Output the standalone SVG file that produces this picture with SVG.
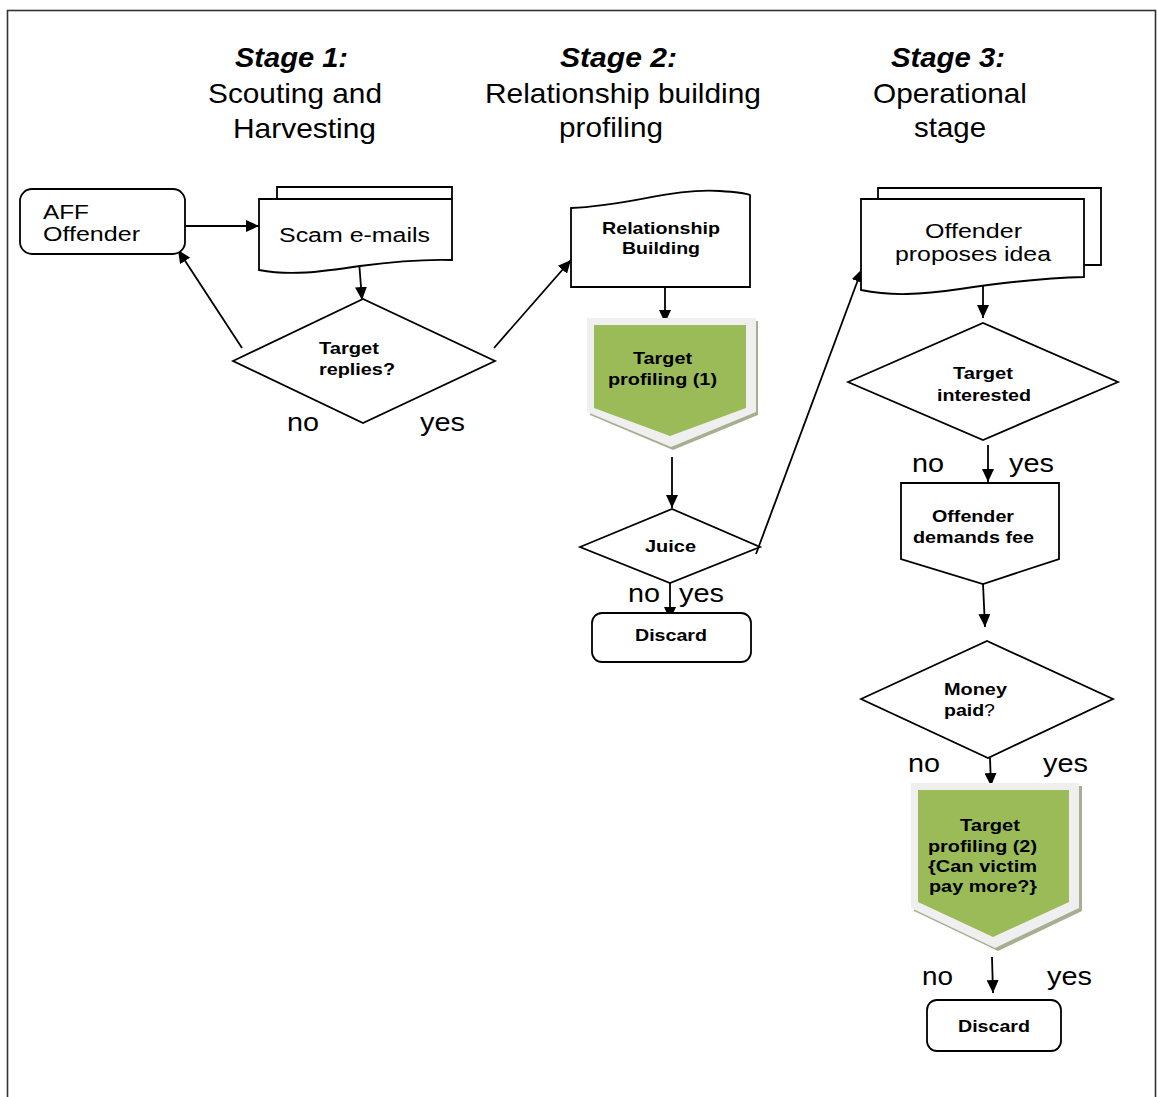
<svg xmlns="http://www.w3.org/2000/svg" width="1157" height="1097" viewBox="0 0 1157 1097">
<defs>
<marker id="ah" markerUnits="userSpaceOnUse" markerWidth="14" markerHeight="12" refX="13" refY="6" orient="auto">
<path d="M0,0 L13,6 L0,12 Z" fill="#000"/>
</marker>
<style>
.hb{font-family:"Liberation Sans",Arial,sans-serif;font-size:27px;font-weight:bold;font-style:italic;fill:#000}
.hr{font-family:"Liberation Sans",Arial,sans-serif;font-size:28px;fill:#000}
.lr{font-family:"Liberation Sans",Arial,sans-serif;font-size:20px;fill:#000}
.lb{font-family:"Liberation Sans",Arial,sans-serif;font-size:17px;font-weight:bold;fill:#000}
.yn{font-family:"Liberation Sans",Arial,sans-serif;font-size:25px;fill:#000}
.sh{fill:#fff;stroke:#000;stroke-width:1.8}
.con{fill:none;stroke:#000;stroke-width:1.8;marker-end:url(#ah)}
.outer{fill:#efefef}
.shadow{fill:#a7ae92}
.green{fill:#9bbb59}
</style>
</defs>
<rect x="7.5" y="10.5" width="1148" height="1100" fill="#fff" stroke="#333" stroke-width="1.6"/>

<g id="headers">
<text class="hb" x="235" y="67" textLength="113" lengthAdjust="spacingAndGlyphs">Stage 1:</text>
<text class="hr" x="208" y="103" textLength="174" lengthAdjust="spacingAndGlyphs">Scouting and</text>
<text class="hr" x="233" y="138" textLength="143" lengthAdjust="spacingAndGlyphs">Harvesting</text>
<text class="hb" x="560" y="67" textLength="117" lengthAdjust="spacingAndGlyphs">Stage 2:</text>
<text class="hr" x="485" y="103" textLength="276" lengthAdjust="spacingAndGlyphs">Relationship building</text>
<text class="hr" x="559" y="137" textLength="104" lengthAdjust="spacingAndGlyphs">profiling</text>
<text class="hb" x="891" y="67" textLength="114" lengthAdjust="spacingAndGlyphs">Stage 3:</text>
<text class="hr" x="873" y="103" textLength="154" lengthAdjust="spacingAndGlyphs">Operational</text>
<text class="hr" x="914" y="137" textLength="72" lengthAdjust="spacingAndGlyphs">stage</text>
</g>

<g id="connectors">
<line class="con" x1="185" y1="226" x2="259" y2="226"/>
<line class="con" x1="359" y1="261" x2="362" y2="300"/>
<line class="con" x1="242" y1="348" x2="178" y2="250"/>
<line class="con" x1="494" y1="348" x2="571" y2="260"/>
<line class="con" x1="665" y1="287" x2="665" y2="323"/>
<line class="con" x1="672" y1="457" x2="672" y2="508"/>
<line class="con" x1="670" y1="583" x2="670" y2="620"/>
<line class="con" x1="756" y1="554" x2="862" y2="269"/>
<line class="con" x1="983" y1="281" x2="983" y2="318"/>
<line class="con" x1="988" y1="445" x2="988" y2="482"/>
<line class="con" x1="983" y1="584" x2="985" y2="627"/>
<line class="con" x1="990" y1="758" x2="991" y2="786"/>
<line class="con" x1="992" y1="957" x2="993" y2="993"/>
</g>

<g id="aff-offender">
<rect class="sh" x="20" y="189" width="165" height="65" rx="12"/>
<text class="lr" x="43" y="219" textLength="46" lengthAdjust="spacingAndGlyphs">AFF</text>
<text class="lr" x="43" y="241" textLength="97" lengthAdjust="spacingAndGlyphs">Offender</text>
</g>

<g id="scam-emails">
<polyline class="sh" points="277,199 277,187 452,187 452,199"/>
<path class="sh" d="M259,199 H452 V260 C420,259 390,262 360,266 C320,272 290,276 259,270 Z"/>
<text class="lr" x="279" y="242" textLength="151" lengthAdjust="spacingAndGlyphs">Scam e-mails</text>
</g>

<g id="target-replies">
<polygon class="sh" points="233,361 363,299 495,361 363,423"/>
<text class="lb" x="319" y="354" textLength="60" lengthAdjust="spacingAndGlyphs">Target</text>
<text class="lb" x="319" y="375" textLength="76" lengthAdjust="spacingAndGlyphs">replies?</text>
<text class="yn" x="287" y="431" textLength="32" lengthAdjust="spacingAndGlyphs">no</text>
<text class="yn" x="420" y="431" textLength="45" lengthAdjust="spacingAndGlyphs">yes</text>
</g>

<g id="relationship-building">
<path class="sh" d="M571,208 C630,206 670,188 720,191 C735,192 745,193 750,195 V287 H571 Z"/>
<text class="lb" x="602" y="234" textLength="118" lengthAdjust="spacingAndGlyphs">Relationship</text>
<text class="lb" x="622" y="254" textLength="78" lengthAdjust="spacingAndGlyphs">Building</text>
</g>

<g id="target-profiling-1">
<polygon class="shadow" points="590,321 758,321 758,415 673,450 590,415"/>
<polygon class="outer" points="587,318 756,318 756,412 671,447 587,412"/>
<polygon class="green" points="594,325 746,325 746,408 670,436 594,408"/>
<text class="lb" x="633" y="364" textLength="59" lengthAdjust="spacingAndGlyphs">Target</text>
<text class="lb" x="608" y="385" textLength="109" lengthAdjust="spacingAndGlyphs">profiling (1)</text>
</g>

<g id="juice">
<polygon class="sh" points="580,547 672,509 760,547 670,583"/>
<text class="lb" x="645" y="552" textLength="51" lengthAdjust="spacingAndGlyphs">Juice</text>
<text class="yn" x="628" y="602" textLength="32" lengthAdjust="spacingAndGlyphs">no</text>
<text class="yn" x="679" y="602" textLength="45" lengthAdjust="spacingAndGlyphs">yes</text>
</g>

<g id="discard-1">
<rect class="sh" x="592" y="613" width="159" height="49" rx="10"/>
<text class="lb" x="635" y="641" textLength="72" lengthAdjust="spacingAndGlyphs">Discard</text>
</g>

<g id="offender-proposes">
<polyline class="sh" points="878,199 878,188 1101,188 1101,265 1084,265"/>
<path class="sh" d="M861,199 H1084 V277 C1040,278 1000,283 960,289 C920,295 890,296 861,290 Z"/>
<text class="lr" x="925" y="238" textLength="97" lengthAdjust="spacingAndGlyphs">Offender</text>
<text class="lr" x="895" y="261" textLength="156" lengthAdjust="spacingAndGlyphs">proposes idea</text>
</g>

<g id="target-interested">
<polygon class="sh" points="848,382 983,323 1118,382 983,440"/>
<text class="lb" x="953" y="379" textLength="60" lengthAdjust="spacingAndGlyphs">Target</text>
<text class="lb" x="937" y="401" textLength="94" lengthAdjust="spacingAndGlyphs">interested</text>
<text class="yn" x="912" y="472" textLength="32" lengthAdjust="spacingAndGlyphs">no</text>
<text class="yn" x="1009" y="472" textLength="45" lengthAdjust="spacingAndGlyphs">yes</text>
</g>

<g id="offender-demands-fee">
<polygon class="sh" points="901,483 1059,483 1059,559 983,584 901,559"/>
<text class="lb" x="932" y="522" textLength="82" lengthAdjust="spacingAndGlyphs">Offender</text>
<text class="lb" x="913" y="543" textLength="121" lengthAdjust="spacingAndGlyphs">demands fee</text>
</g>

<g id="money-paid">
<polygon class="sh" points="861,699 987,641 1113,699 988,758"/>
<text class="lb" x="944" y="695" textLength="63" lengthAdjust="spacingAndGlyphs">Money</text>
<text class="lb" x="944" y="716" textLength="51" lengthAdjust="spacingAndGlyphs">paid<tspan font-weight="normal">?</tspan></text>
<text class="yn" x="908" y="772" textLength="32" lengthAdjust="spacingAndGlyphs">no</text>
<text class="yn" x="1043" y="772" textLength="45" lengthAdjust="spacingAndGlyphs">yes</text>
</g>

<g id="target-profiling-2">
<polygon class="shadow" points="914,786 1082,786 1082,911 998,951 914,911"/>
<polygon class="outer" points="911,783 1079,783 1079,908 995,948 911,908"/>
<polygon class="green" points="918,790 1069,790 1069,902 993,937 918,902"/>
<text class="lb" x="960" y="831" textLength="60" lengthAdjust="spacingAndGlyphs">Target</text>
<text class="lb" x="928" y="852" textLength="109" lengthAdjust="spacingAndGlyphs">profiling (2)</text>
<text class="lb" x="928" y="872" textLength="109" lengthAdjust="spacingAndGlyphs">{Can victim</text>
<text class="lb" x="929" y="892" textLength="108" lengthAdjust="spacingAndGlyphs">pay more?}</text>
<text class="yn" x="922" y="985" textLength="31" lengthAdjust="spacingAndGlyphs">no</text>
<text class="yn" x="1047" y="985" textLength="45" lengthAdjust="spacingAndGlyphs">yes</text>
</g>

<g id="discard-2">
<rect class="sh" x="927" y="1000" width="134" height="51" rx="10"/>
<text class="lb" x="958" y="1032" textLength="72" lengthAdjust="spacingAndGlyphs">Discard</text>
</g>
</svg>
